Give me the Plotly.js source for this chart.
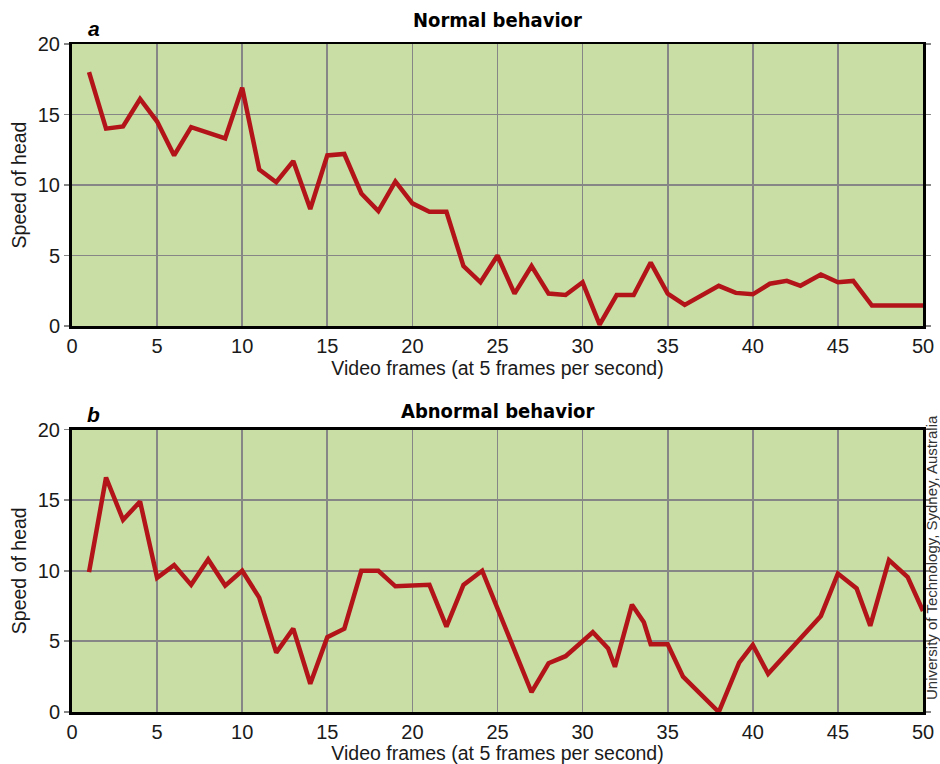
<!DOCTYPE html>
<html>
<head>
<meta charset="utf-8">
<script src="https://cdn.plot.ly/plotly-3.0.1.min.js"></script>
<style>html,body{margin:0;padding:0;background:#fff;}#chart{width:940px;height:764px;}</style>
</head>
<body>
<div id="chart"></div>
<script>
// Panel a: normal behaviour
const normalFrames = [1,2,3,4,5,6,7,9,10,11,12,13,14,15,16,17,18,19,20,21,22,23,24,25,26,27,28,29,30,31,32,33,34,35,36,38,39,40,41,42,42.8,44,45,45.9,47,50];
const normalSpeed  = [18.0,14.0,14.15,16.1,14.5,12.1,14.1,13.3,16.9,11.1,10.2,11.7,8.3,12.1,12.2,9.4,8.15,10.25,8.7,8.1,8.1,4.25,3.1,5.0,2.3,4.25,2.3,2.2,3.1,0.1,2.2,2.2,4.5,2.3,1.5,2.85,2.35,2.25,3.0,3.2,2.85,3.65,3.1,3.2,1.45,1.45];

// Panel b: abnormal behaviour
const abnormalFrames = [1,2,3,4,5,6,7,8,9,10,11,12,13,14,15,16,17,18,19,21,22,23,24.1,27,28,29,30.6,31.5,31.9,32.9,33.6,34,35,35.9,38,39.2,40,40.9,44,45,46.1,46.9,48,49.1,50];
const abnormalSpeed  = [9.9,16.6,13.6,14.9,9.5,10.4,9.0,10.8,8.95,10.0,8.1,4.2,5.9,2.0,5.3,5.9,10.0,10.0,8.9,9.0,6.05,9.0,10.0,1.4,3.45,3.95,5.65,4.5,3.2,7.6,6.35,4.8,4.8,2.5,0.0,3.5,4.75,2.7,6.8,9.8,8.75,6.1,10.75,9.55,7.15];

const xTicks = [0,5,10,15,20,25,30,35,40,45,50];
const yTicks = [0,5,10,15,20];

const panelTitles = ['Normal behavior', 'Abnormal behavior'];
const panelLetters = ['a', 'b'];
const xTitle = 'Video frames (at 5 frames per second)';
const yTitle = 'Speed of head';
const credit = 'University of Technology, Sydney, Australia';

const FONT = 'Liberation Sans, Arial, sans-serif';
const NARROW = 'Liberation Sans Narrow, Arial Narrow, DejaVu Sans Condensed, sans-serif';
const BG = '#c9dea5';
const LINE = '#b3141a';
const GRID = '#868686';

const lineStyle = {color: LINE, width: 4.5, shape: 'linear'};

const traces = [
  {x: normalFrames, y: normalSpeed, type: 'scatter', mode: 'lines', line: lineStyle, xaxis: 'x', yaxis: 'y', hoverinfo: 'skip'},
  {x: abnormalFrames, y: abnormalSpeed, type: 'scatter', mode: 'lines', line: lineStyle, xaxis: 'x2', yaxis: 'y2', hoverinfo: 'skip'}
];

function xAxis(anchor) {
  return {
    anchor: anchor, domain: [0, 1], range: [0, 50],
    tickvals: xTicks, ticktext: xTicks.map(String),
    showgrid: true, gridcolor: GRID, gridwidth: 1.8,
    zeroline: false, showline: true, linecolor: '#000', linewidth: 2.5, mirror: true,
    ticks: '', tickfont: {family: FONT, size: 20, color: '#1a1a1a'},
    title: {text: xTitle, font: {family: FONT, size: 19.5, color: '#1a1a1a'}, standoff: 6},
    fixedrange: true
  };
}
function yAxis(anchor, domain) {
  return {
    anchor: anchor, domain: domain, range: [0, 20],
    tickvals: yTicks, ticktext: yTicks.map(String),
    showgrid: true, gridcolor: GRID, gridwidth: 1.8,
    zeroline: false, showline: true, linecolor: '#000', linewidth: 3, mirror: 'ticks',
    ticks: 'outside', ticklen: 5, tickwidth: 1.8, tickcolor: GRID,
    tickfont: {family: FONT, size: 20, color: '#1a1a1a'},
    title: {text: yTitle, font: {family: FONT, size: 19.5, color: '#1a1a1a'}, standoff: 6},
    fixedrange: true
  };
}

const layout = {
  width: 940, height: 764,
  margin: {l: 72, r: 17, t: 44, b: 52},
  paper_bgcolor: '#fff', plot_bgcolor: BG,
  showlegend: false,
  xaxis: xAxis('y'),
  yaxis: yAxis('x', [0.5778, 1]),
  xaxis2: xAxis('y2'),
  yaxis2: yAxis('x2', [0, 0.4229]),
  annotations: [
    {text: '<b>' + panelTitles[0] + '</b>', xref: 'paper', yref: 'paper', x: 0.5, y: 1, yshift: 24, showarrow: false,
     font: {family: NARROW, size: 20, color: '#000'}, xanchor: 'center', yanchor: 'middle'},
    {text: '<b><i>' + panelLetters[0] + '</i></b>', xref: 'paper', yref: 'paper', x: 0, y: 1, xshift: 22, yshift: 16, showarrow: false,
     font: {family: FONT, size: 21, color: '#000'}, xanchor: 'center', yanchor: 'middle'},
    {text: '<b>' + panelTitles[1] + '</b>', xref: 'paper', yref: 'paper', x: 0.5, y: 0.4229, yshift: 19, showarrow: false,
     font: {family: NARROW, size: 20, color: '#000'}, xanchor: 'center', yanchor: 'middle'},
    {text: '<b><i>' + panelLetters[1] + '</i></b>', xref: 'paper', yref: 'paper', x: 0, y: 0.4229, xshift: 21, yshift: 15, showarrow: false,
     font: {family: FONT, size: 21, color: '#000'}, xanchor: 'center', yanchor: 'middle'},
    {text: credit, xref: 'paper', yref: 'paper', x: 1, y: 0.4229, xshift: 8, yshift: 16, textangle: -90, showarrow: false,
     font: {family: FONT, size: 15, color: '#333'}, xanchor: 'center', yanchor: 'top'}
  ]
};

Plotly.newPlot('chart', traces, layout, {staticPlot: true, displayModeBar: false});
</script>
</body>
</html>
